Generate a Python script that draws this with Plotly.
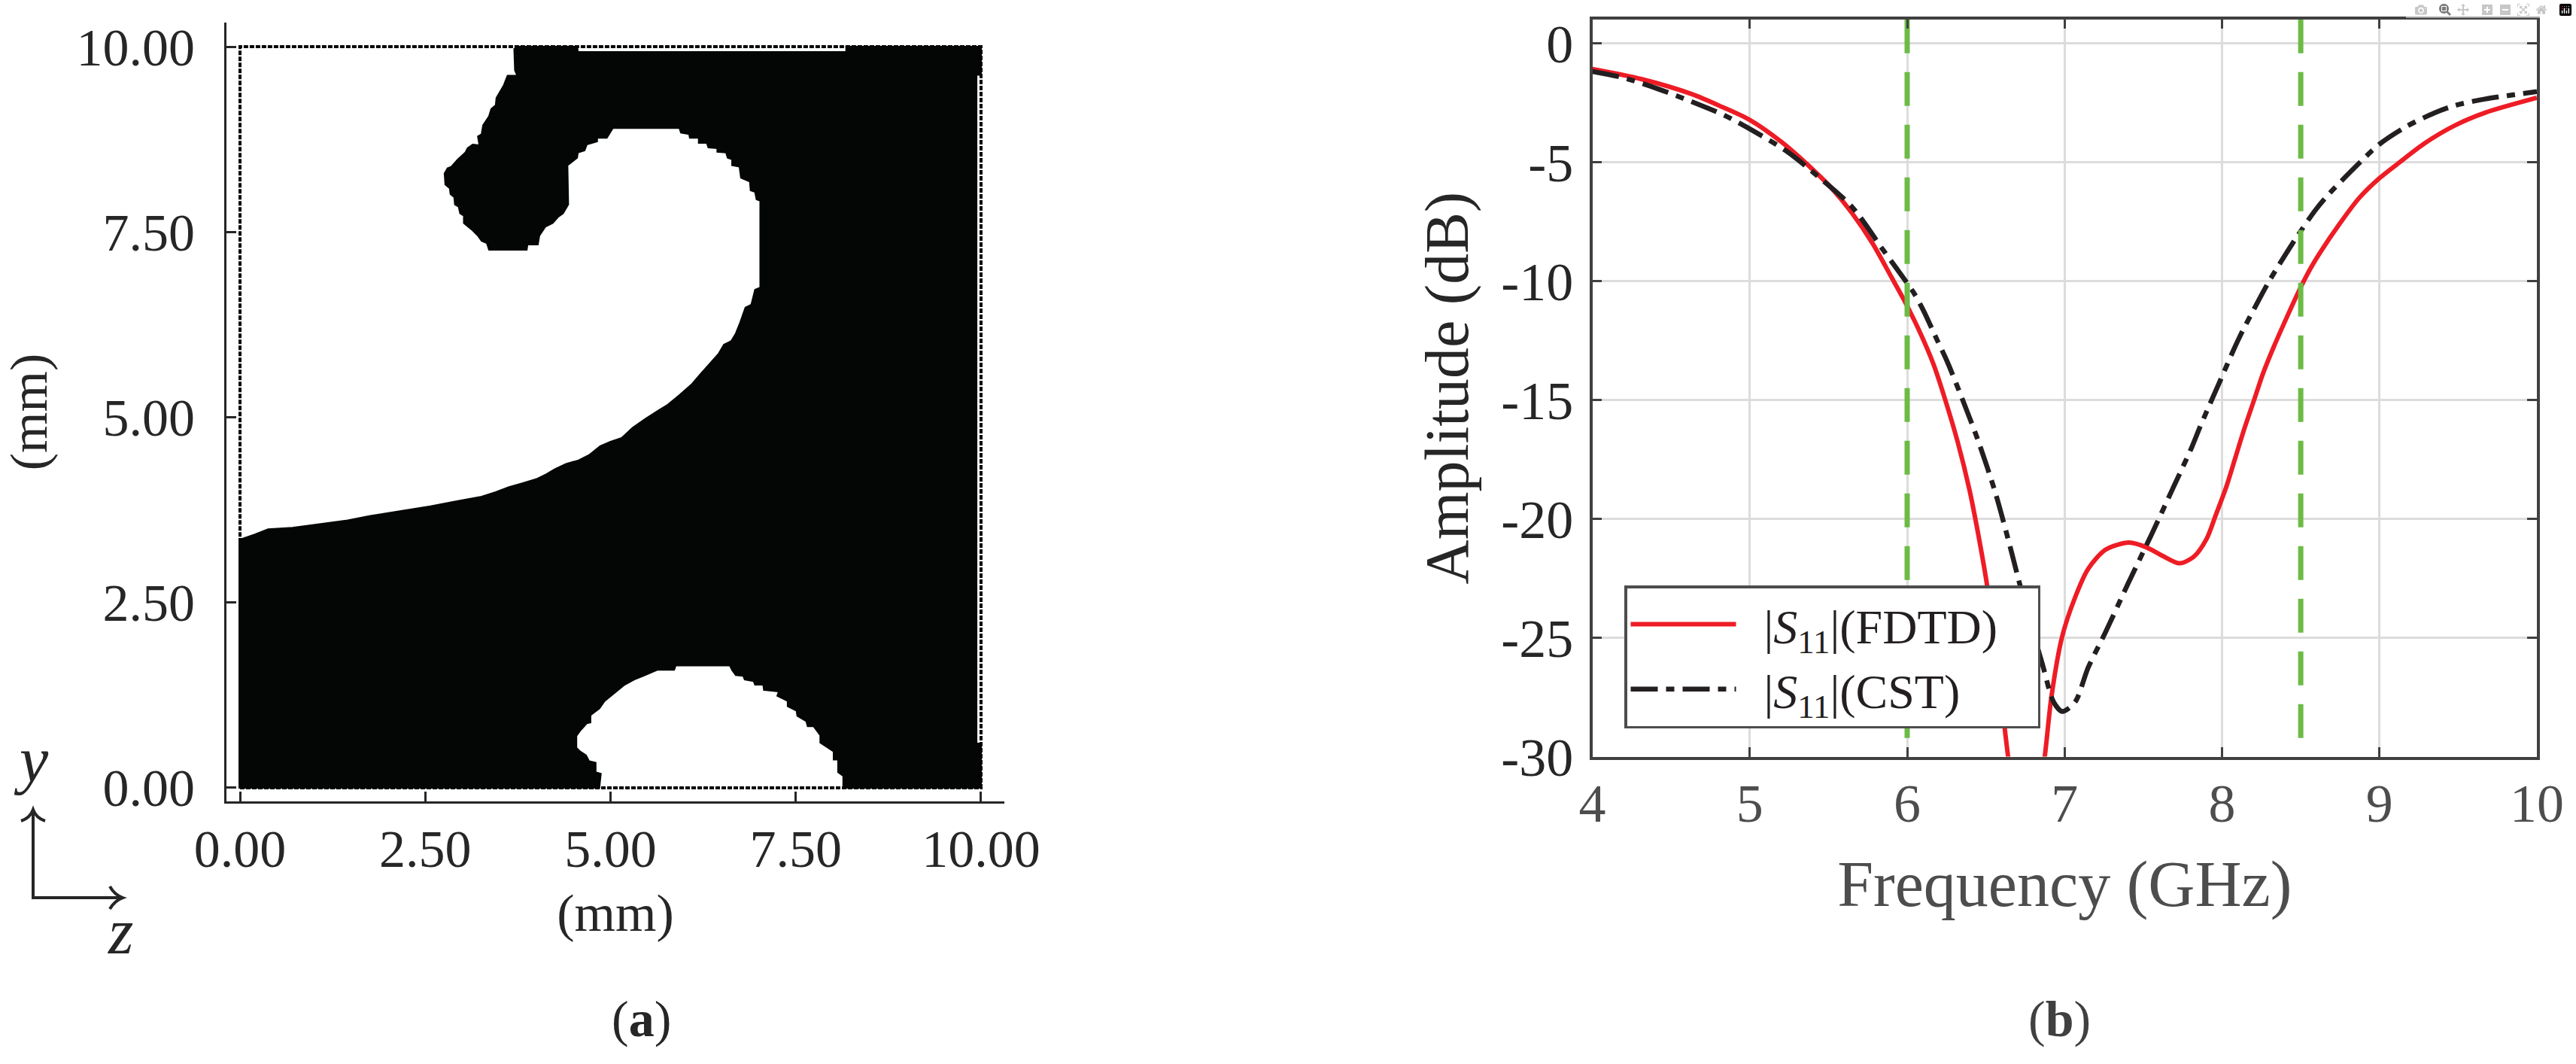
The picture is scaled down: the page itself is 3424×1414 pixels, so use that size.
import plotly.graph_objects as go

W, H = 3424, 1414
SERIF = "Liberation Serif"
DARK = "#262626"
GRAY = "#4d4d4d"

# ---- panel (a): binary material map, outline of the metal region (mm)
upper_edge_z = [-0.02,0.03,0.20,0.38,0.71,1.08,1.45,1.76,2.19,2.57,2.94,3.26,3.45,3.63,3.81,4.01,4.13,4.25,4.40,4.57,4.71,4.86,5.00,5.15,5.30,5.47,5.66,5.76,5.93,6.10,6.22,6.34,6.46,6.53,6.63,6.69,6.75,6.82,6.90,6.95,7.02,
                7.02,6.97,6.95,6.89,6.88,6.76,6.74,6.64,6.64,6.58,6.56,6.44,6.44,6.32,6.30,6.19,6.19,6.07,6.06,5.95,5.93,5.03,4.95,4.82,4.82,4.68,4.65,4.56,4.55,4.48,4.42,4.43,4.36,4.29,4.22,4.12,4.04,4.02,3.88,3.87,3.36,3.33,3.26,3.21,3.14,3.02,3.02,2.97,2.95,2.90,2.89,2.84,2.83,2.77,2.76,2.80,2.85,2.94,3.04,3.07,3.14,3.23,3.21,3.26,3.28,3.36,3.39,3.45,3.46,3.52,3.56,3.61,3.74,3.71,3.70,3.70,3.75]
upper_edge_y = [3.36,3.36,3.42,3.49,3.51,3.56,3.61,3.67,3.74,3.80,3.87,3.93,3.99,4.06,4.11,4.17,4.23,4.30,4.37,4.42,4.49,4.61,4.67,4.72,4.86,4.98,5.10,5.16,5.30,5.45,5.59,5.72,5.86,5.98,6.03,6.13,6.28,6.48,6.52,6.72,6.75,
                7.92,7.94,8.04,8.06,8.18,8.23,8.38,8.40,8.48,8.50,8.57,8.58,8.63,8.64,8.70,8.70,8.77,8.77,8.82,8.84,8.90,8.90,8.77,8.77,8.72,8.68,8.60,8.57,8.50,8.45,8.40,7.87,7.75,7.70,7.62,7.57,7.45,7.33,7.33,7.26,7.26,7.35,7.38,7.45,7.52,7.62,7.72,7.75,7.84,7.87,7.97,8.01,8.09,8.14,8.29,8.36,8.38,8.48,8.57,8.63,8.68,8.67,8.79,8.82,8.94,9.06,9.16,9.21,9.31,9.41,9.48,9.61,9.61,9.68,9.95,9.97,10.0]
outer_edge_z = [4.55,4.56,8.18,8.18,10.0,10.0,9.94,9.94,10.0,10.0]
outer_edge_y = [10.0,9.93,9.93,10.0,10.0,9.62,9.62,0.60,0.60,0.0]
lower_edge_z = [8.14,8.14,8.07,8.07,8.01,8.01,7.95,7.83,7.83,7.74,7.66,7.64,7.52,7.51,7.39,7.39,7.25,7.27,7.07,7.06,6.95,6.93,6.81,6.79,6.69,6.64,6.61,5.88,5.86,5.63,5.44,5.32,5.19,5.05,4.92,4.85,4.73,4.73,4.68,4.59,4.54,4.54,4.59,4.67,4.71,4.80,4.80,4.87,4.85,4.85,-0.02]
lower_edge_y = [0.0,0.16,0.21,0.38,0.38,0.49,0.53,0.61,0.71,0.83,0.83,0.90,0.97,1.04,1.10,1.17,1.24,1.30,1.32,1.39,1.39,1.44,1.46,1.51,1.52,1.59,1.65,1.65,1.59,1.59,1.51,1.46,1.39,1.28,1.17,1.07,0.98,0.88,0.87,0.77,0.70,0.54,0.49,0.44,0.36,0.34,0.21,0.19,0.04,0.0,0.0]
frame_z = [0, 10, 10, 0, 0]
frame_y = [0, 0, 10, 10, 0]
map_ticks = [0, 2.5, 5, 7.5, 10]

# ---- panel (b): reflection coefficient
fdtd_f = [4.0,4.31,4.63,4.82,5.0,5.2,5.39,5.52,5.65,5.78,5.90,5.98,6.07,6.17,6.24,6.32,6.395,6.45,6.51,6.575,6.64,6.72,6.80,6.875,6.916,6.985,7.067,7.15,7.26,7.41,7.52,7.62,7.73,7.82,7.90,7.96,8.03,8.086,8.14,8.206,8.26,8.33,8.41,8.49,8.56,8.62,8.75,8.87,9.0,9.13,9.29,9.48,9.67,10.0]
fdtd_db = [-1.09,-1.51,-2.14,-2.67,-3.23,-4.15,-5.25,-6.1,-7.15,-8.42,-9.84,-10.8,-12.0,-13.55,-14.96,-16.75,-18.76,-20.6,-22.9,-26.2,-29.94,-33.5,-33.5,-29.94,-27.5,-24.94,-23.3,-22.1,-21.3,-21.0,-21.2,-21.55,-21.87,-21.6,-20.87,-19.85,-18.6,-17.4,-16.25,-14.96,-13.9,-12.75,-11.55,-10.4,-9.5,-8.84,-7.57,-6.52,-5.68,-5.0,-4.2,-3.46,-2.93,-2.3]
cst_f = [4.0,4.2,4.42,4.63,4.84,5.03,5.24,5.39,5.65,5.84,5.93,6.04,6.10,6.19,6.255,6.35,6.45,6.56,6.655,6.72,6.86,6.93,6.985,7.067,7.15,7.26,7.40,7.56,7.685,7.73,7.81,7.855,7.92,7.99,8.07,8.126,8.205,8.30,8.47,8.59,8.67,8.84,9.0,9.17,9.35,9.48,9.67,10.0]
cst_db = [-1.19,-1.46,-1.93,-2.46,-3.04,-3.72,-4.57,-5.36,-6.89,-8.63,-9.45,-10.48,-11.2,-12.48,-13.4,-14.96,-16.7,-18.9,-21.2,-22.87,-26.14,-27.7,-28.1,-27.7,-26.25,-24.77,-22.77,-20.55,-18.76,-18.12,-16.96,-16.22,-15.22,-14.17,-12.95,-12.16,-11.16,-10.0,-8.2,-7.05,-6.41,-5.25,-4.25,-3.51,-2.93,-2.62,-2.35,-2.04]
band_edges = [6.0, 8.5]
band_db = [1, -30]
freq_ticks = [4, 5, 6, 7, 8, 9, 10]
db_ticks = [0, -5, -10, -15, -20, -25, -30]
db_labels = ["0", "-5", "-10", "-15", "-20", "-25", "-30"]


def px(x):
    return x / W


def py(y):
    return 1 - y / H


def pts(*pairs):
    """Page pixels to a paper-coordinate SVG path."""
    return " ".join(f"{px(p[0]):.5f},{py(p[1]):.5f}" for p in pairs)


fig = go.Figure()

# metal region drawn as a filled outline
fig.add_trace(go.Scatter(
    x=upper_edge_z + outer_edge_z + lower_edge_z,
    y=upper_edge_y + outer_edge_y + lower_edge_y,
    mode="lines", fill="toself", fillcolor="#040606",
    line=dict(color="#040606", width=2),
    xaxis="x", yaxis="y", showlegend=False, hoverinfo="skip"))
fig.add_trace(go.Scatter(
    x=frame_z, y=frame_y, mode="lines",
    line=dict(color="#040606", width=4, dash="6px,2px"),
    xaxis="x", yaxis="y", showlegend=False, hoverinfo="skip"))

fig.add_trace(go.Scatter(
    x=fdtd_f, y=fdtd_db, mode="lines",
    name="\u00a0\u00a0|<i>S</i><sub>11</sub>|(FDTD)\u00a0\u00a0\u00a0",
    line=dict(color="#ee1c25", width=6, shape="spline", smoothing=0.8),
    xaxis="x2", yaxis="y2"))
fig.add_trace(go.Scatter(
    x=cst_f, y=cst_db, mode="lines", name="\u00a0\u00a0|<i>S</i><sub>11</sub>|(CST)",
    line=dict(color="#231f20", width=6.5, shape="spline", smoothing=0.8,
              dash="36px,11px,11px,11px"),
    xaxis="x2", yaxis="y2"))
for f in band_edges:
    fig.add_trace(go.Scatter(
        x=[f, f], y=band_db, mode="lines",
        line=dict(color="#6cbb46", width=7, dash="45px,25px"),
        xaxis="x2", yaxis="y2", showlegend=False, hoverinfo="skip"))

axis_a = dict(showgrid=False, zeroline=False, showline=True, linecolor=DARK, linewidth=3,
              ticks="inside", ticklen=13, tickwidth=3, tickcolor=DARK, automargin=False,
              tickfont=dict(family=SERIF, size=70, color=DARK),
              tickmode="array", tickvals=map_ticks, tickformat=".2f")
arrow_line = dict(color=DARK, width=4)
fig.update_layout(
    xaxis=dict(axis_a, domain=[px(301), px(1335)], range=[-0.183, 10.315], anchor="y",
               title=dict(text="(mm)", font=dict(family=SERIF, size=70, color=DARK), standoff=22),
               ticklabelstandoff=0),
    yaxis=dict(axis_a, domain=[py(1065), py(30)], range=[-0.183, 10.325], anchor="x",
               title=dict(text="(mm)", font=dict(family=SERIF, size=70, color=DARK), standoff=35),
               ticklabelstandoff=25),
    xaxis2=dict(domain=[px(2116.5), px(3372)], range=[4, 10], anchor="y2", automargin=False,
                showgrid=True, gridcolor="#dcdcdc", gridwidth=3, zeroline=False,
                showline=True, linecolor="#404040", linewidth=3.5, mirror="ticks",
                ticks="inside", ticklen=13, tickwidth=3, tickcolor="#404040",
                tickfont=dict(family=SERIF, size=72, color=GRAY),
                tickmode="array", tickvals=freq_ticks, ticklabelstandoff=-4,
                title=dict(text="Frequency (GHz)", font=dict(family=SERIF, size=86, color=GRAY), standoff=38)),
    yaxis2=dict(domain=[py(1005.5), py(25.7)], range=[-30, 1], anchor="x2", automargin=False,
                showgrid=True, gridcolor="#dcdcdc", gridwidth=3, zeroline=False,
                showline=True, linecolor="#404040", linewidth=3.5, mirror="ticks",
                ticks="inside", ticklen=13, tickwidth=3, tickcolor="#404040",
                tickfont=dict(family=SERIF, size=72, color=DARK),
                tickmode="array", tickvals=db_ticks, ticktext=db_labels, ticklabelstandoff=7,
                title=dict(text="Amplitude (dB)", font=dict(family=SERIF, size=82, color=DARK), standoff=18)),
    legend=dict(x=px(2159), y=py(778), xanchor="left", yanchor="top",
                bgcolor="white", bordercolor="#4d4d4d", borderwidth=3.5,
                itemwidth=140, tracegroupgap=0,
                font=dict(family=SERIF, size=64, color="#231f20")),
    width=W, height=H, margin=dict(l=0, r=0, t=0, b=0),
    plot_bgcolor="white", paper_bgcolor="white",
    shapes=[
        dict(type="path", xref="paper", yref="paper", line=arrow_line,
             path="M" + pts((44, 1076)) + " L" + pts((44, 1193)) + " L" + pts((163, 1193))),
        dict(type="path", xref="paper", yref="paper", line=arrow_line,
             path="M" + pts((28, 1091)) + " Q" + pts((40, 1087), (44, 1076)) + " Q" + pts((48, 1087), (60, 1091))),
        dict(type="path", xref="paper", yref="paper", line=arrow_line,
             path="M" + pts((146, 1178)) + " Q" + pts((152, 1189), (163, 1193)) + " Q" + pts((152, 1197), (146, 1208))),
    ],
    annotations=[
        dict(x=px(852), y=py(1354), xref="paper", yref="paper", text="(<b>a</b>)", showarrow=False,
             xanchor="center", yanchor="middle", font=dict(family=SERIF, size=68, color=DARK)),
        dict(x=px(2737), y=py(1354), xref="paper", yref="paper", text="(<b>b</b>)", showarrow=False,
             xanchor="center", yanchor="middle", font=dict(family=SERIF, size=68, color="#404040")),
        dict(x=px(41), y=py(1009), xref="paper", yref="paper", text="<i>y</i>", showarrow=False,
             xanchor="center", yanchor="middle", font=dict(family=SERIF, size=86, color=DARK)),
        dict(x=px(160), y=py(1238), xref="paper", yref="paper", text="<i>z</i>", showarrow=False,
             xanchor="center", yanchor="middle", font=dict(family=SERIF, size=86, color=DARK)),
    ],
)

fig.write_html("out.html", post_script="document.body.style.margin='0';")
